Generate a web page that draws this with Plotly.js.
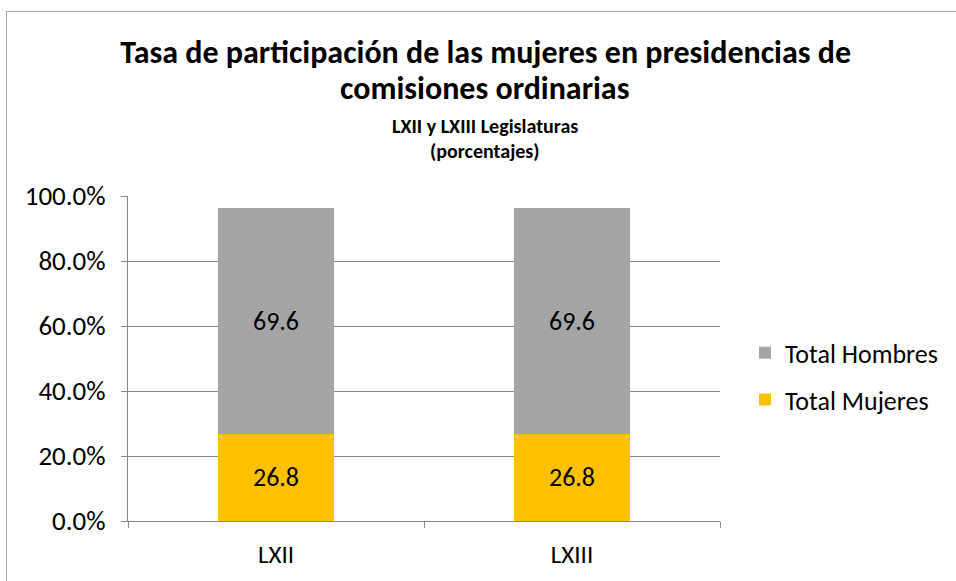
<!DOCTYPE html>
<html><head><meta charset="utf-8">
<script src="https://cdn.plot.ly/plotly-3.0.1.min.js"></script>
<style>
html,body{margin:0;padding:0;background:#fff;overflow:hidden;}
#frame{position:absolute;left:6px;top:11px;width:1000px;height:700px;border:1.5px solid #a6a6a6;}
#chart{position:absolute;left:0;top:0;width:956px;height:581px;}
</style></head>
<body>
<div id="frame"></div>
<div id="chart"></div>
<script>
const categories = ["LXII", "LXIII"];
const mujeres = [26.8, 26.8];
const hombres = [69.6, 69.6];
const yTickVals = [0, 20, 40, 60, 80, 100];
const yTickText = ["0.0%", "20.0%", "40.0%", "60.0%", "80.0%", "100.0%"];
const titleLine1 = "Tasa de participación de las mujeres en presidencias de";
const titleLine2 = "comisiones ordinarias";
const subtitle1 = "LXII y LXIII Legislaturas";
const subtitle2 = "(porcentajes)";

const FONT = "Carlito, 'Liberation Sans Narrow', 'Open Sans', sans-serif";
const PT = 196, PH = 325; // plot top and height in px
const py = px => 1 + (PT - px) / PH;

const traces = [
  {type: "bar", name: "Total Mujeres", legendgroup: "m", legendrank: 2, x: categories, y: mujeres,
   marker: {color: "#FFC000"}, text: mujeres.map(v => v.toFixed(1)),
   textposition: "inside", insidetextanchor: "middle", textangle: 0,
   constraintext: "none", textfont: {size: 26, color: "#000", family: FONT},
   hoverinfo: "skip"},
  {type: "bar", name: "Total Hombres", legendgroup: "h", legendrank: 1, x: categories, y: hombres,
   marker: {color: "#A5A5A5"}, text: hombres.map(v => v.toFixed(1)),
   textposition: "inside", insidetextanchor: "middle", textangle: 0,
   constraintext: "none", textfont: {size: 26, color: "#000", family: FONT},
   hoverinfo: "skip"}
];

const layout = {
  width: 956, height: 581,
  paper_bgcolor: "rgba(0,0,0,0)", plot_bgcolor: "rgba(0,0,0,0)",
  barmode: "stack", bargap: 0.605,
  font: {family: FONT, color: "#000"},
  margin: {l: 128, r: 236, t: PT, b: 60},
  title: {text: "<b>" + titleLine1 + "</b>",
          font: {size: 32, family: FONT, color: "#000"},
          x: 0.508, xanchor: "center", y: 1 - 52 / 581, yanchor: "middle"},
  annotations: [
    {text: "<b>" + titleLine2 + "</b>", xref: "paper", yref: "paper",
     x: 0.603, y: py(88), xanchor: "center", yanchor: "middle",
     showarrow: false, font: {size: 32, family: FONT}},
    {text: "<b>" + subtitle1 + "</b>", xref: "paper", yref: "paper",
     x: 0.603, y: py(126), xanchor: "center", yanchor: "middle",
     showarrow: false, font: {size: 20, family: FONT}},
    {text: "<b>" + subtitle2 + "</b>", xref: "paper", yref: "paper",
     x: 0.603, y: py(151), xanchor: "center", yanchor: "middle",
     showarrow: false, font: {size: 20, family: FONT}}
  ],
  xaxis: {type: "category", showline: true, linecolor: "#868686", linewidth: 1,
          ticks: "outside", tickson: "boundaries", ticklen: 6, tickcolor: "#868686",
          ticklabelstandoff: 11,
          tickfont: {size: 25, family: FONT}, showgrid: false, fixedrange: true},
  yaxis: {range: [0, 100], tickvals: yTickVals, ticktext: yTickText,
          showline: true, linecolor: "#868686", linewidth: 1,
          ticks: "outside", ticklen: 6, tickcolor: "#868686",
          ticklabelstandoff: 10,
          showgrid: true, gridcolor: "#868686", gridwidth: 1, zeroline: false,
          tickfont: {size: 27, family: FONT}, fixedrange: true},
  legend: {x: (745 - 128) / 592, xanchor: "left", y: 0.445, yanchor: "middle",
           traceorder: "grouped", font: {size: 26, family: FONT},
           itemwidth: 30, tracegroupgap: 10, bgcolor: "rgba(0,0,0,0)"},
  showlegend: true
};

Plotly.newPlot("chart", traces, layout, {displayModeBar: false, staticPlot: true});
</script>
</body></html>
